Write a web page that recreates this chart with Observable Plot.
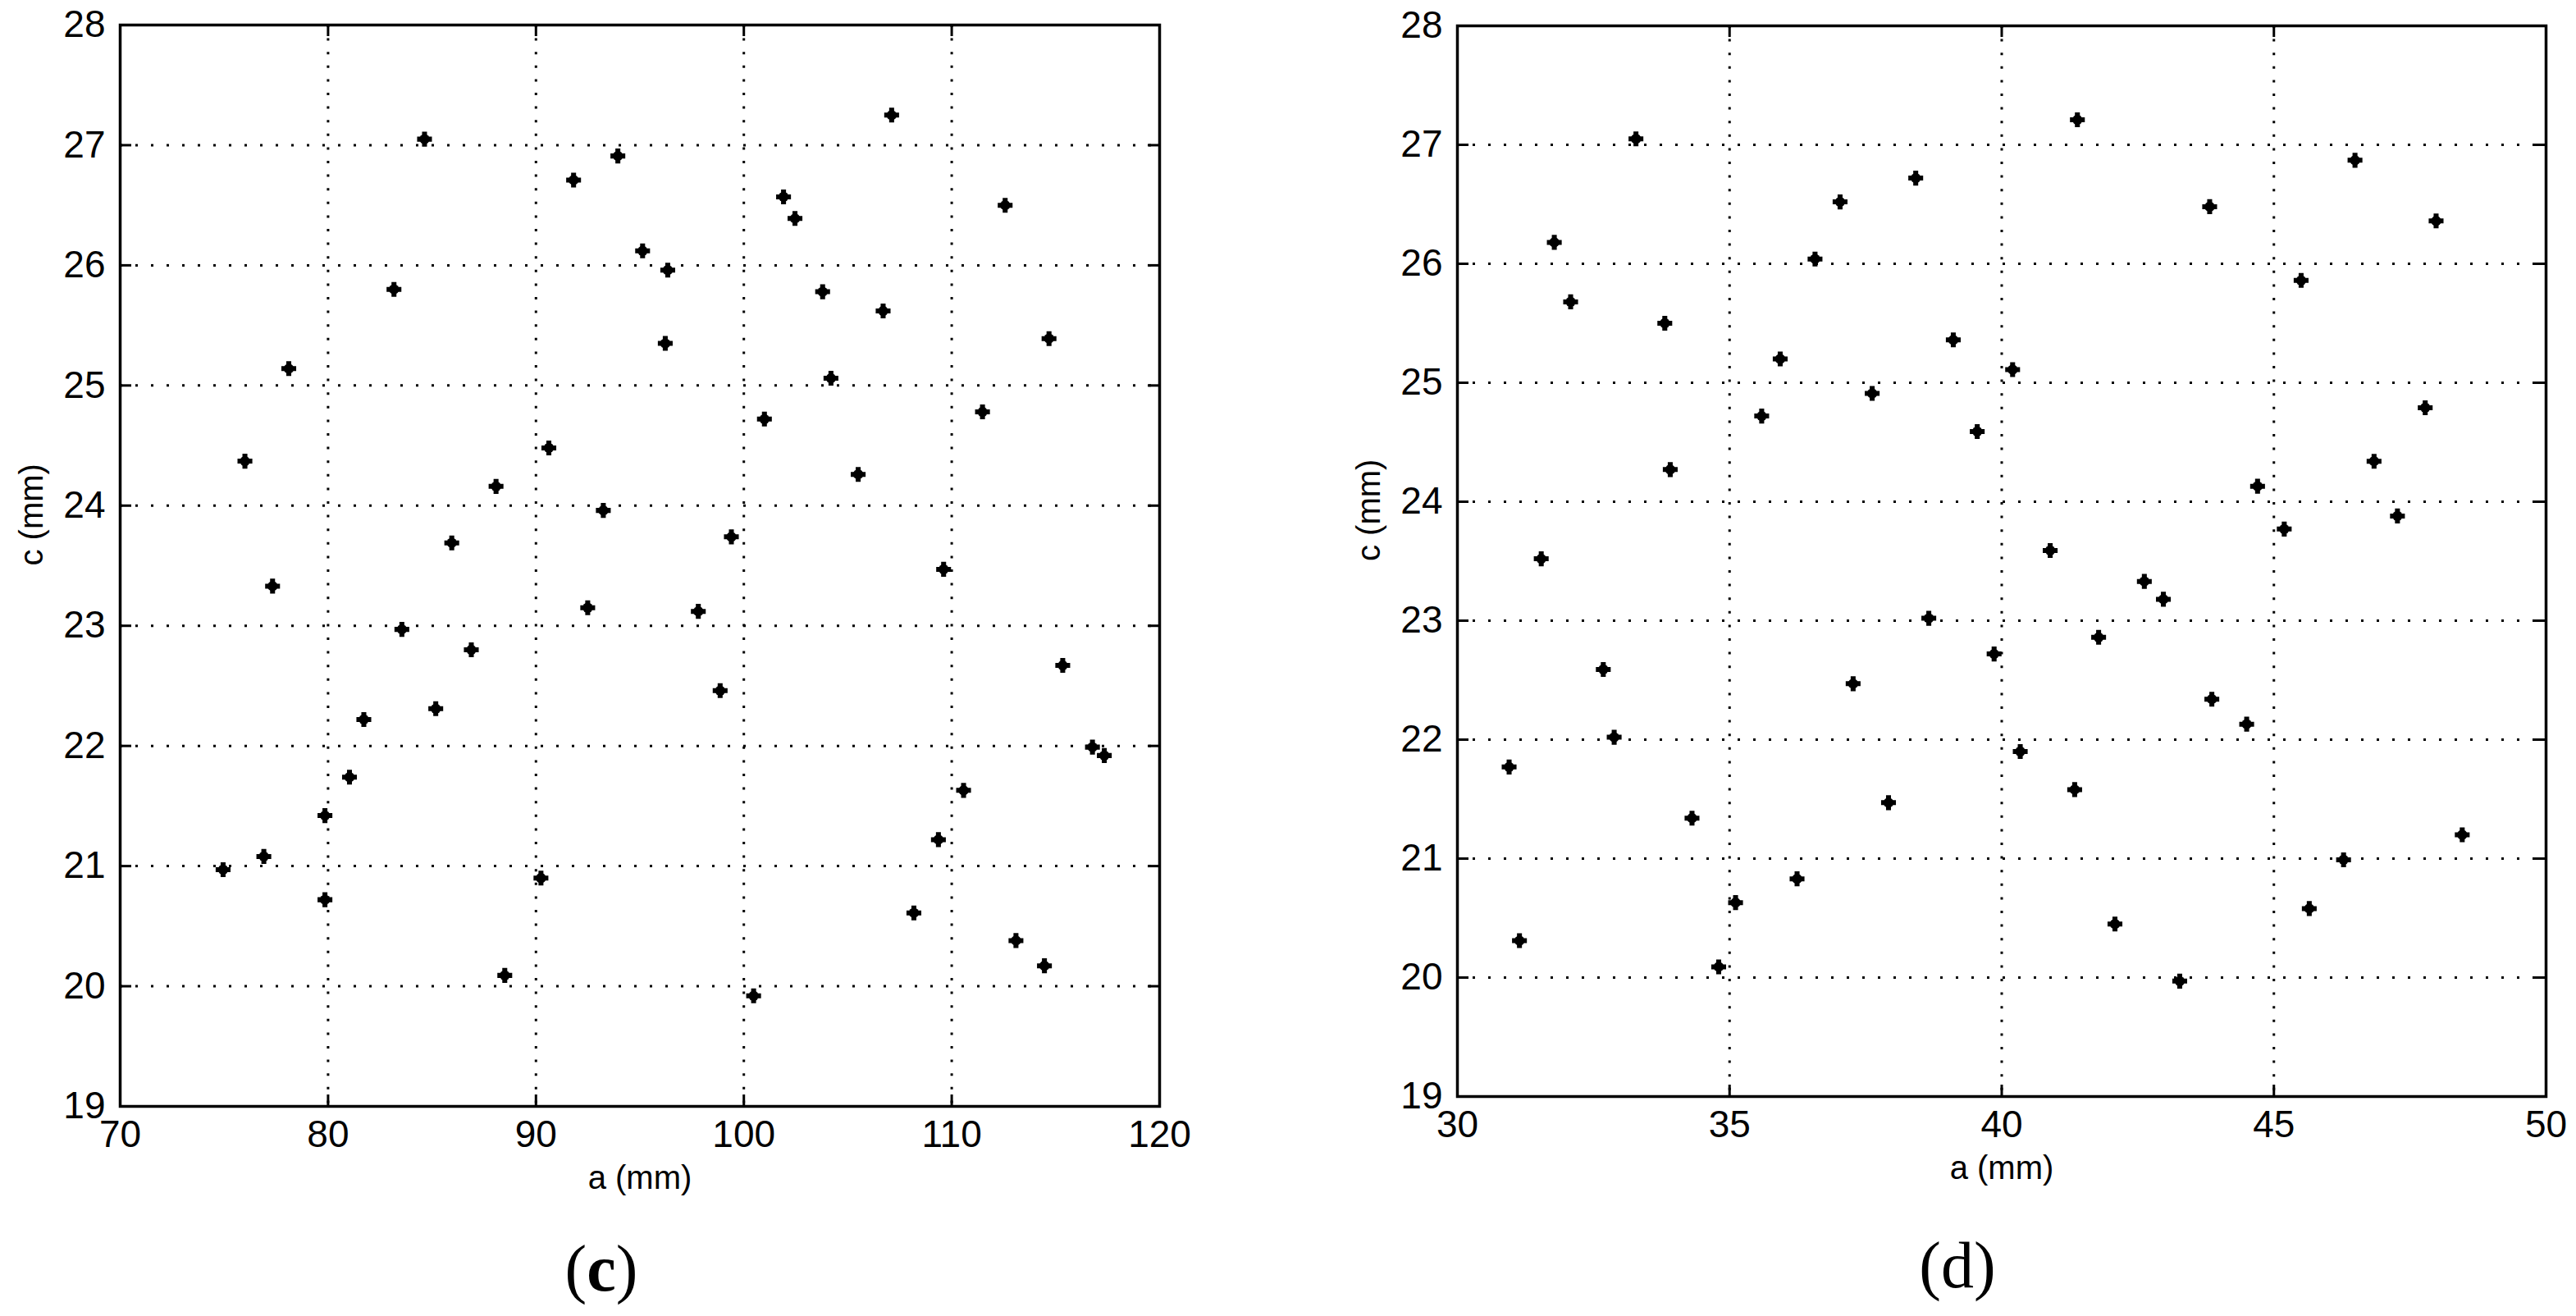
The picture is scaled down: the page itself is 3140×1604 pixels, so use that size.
<!DOCTYPE html>
<html>
<head>
<meta charset="utf-8">
<script src="https://cdn.jsdelivr.net/npm/d3@7"></script>
<script src="https://cdn.jsdelivr.net/npm/@observablehq/plot@0.6"></script>
<style>
html, body { margin: 0; padding: 0; background: #fff; }
#root { position: relative; width: 3140px; height: 1604px; overflow: hidden; background: #fff; }
.panel { position: absolute; top: 0; }
.cap { position: absolute; font-family: "Liberation Serif", "Times New Roman", serif; font-size: 80px; line-height: 1; transform: translate(-50%, -50%); white-space: nowrap; color: #000; }
</style>
</head>
<body>
<div id="root"></div>
<script>
// ---- Panel (c) data ----
const cA = [84.64, 93.94, 91.81, 95.13, 83.17, 78.11, 76.00, 90.62, 88.08, 93.24,
            85.95, 107.11, 101.91, 102.46, 112.57, 96.34, 103.79, 106.70, 96.22, 114.68,
            104.19, 111.48, 100.99, 105.50, 99.40, 109.61, 77.33, 92.49, 83.55, 86.89,
            85.18, 81.72, 81.03, 79.85, 76.91, 74.95, 79.85, 90.24, 88.50, 97.81,
            98.86, 115.34, 116.77, 117.34, 110.57, 109.36, 108.18, 113.09, 114.46, 100.47];
const cC = [27.05, 26.91, 26.71, 26.12, 25.80, 25.14, 24.37, 24.48, 24.16, 23.96,
            23.69, 27.25, 26.57, 26.39, 26.50, 25.96, 25.78, 25.62, 25.35, 25.39,
            25.06, 24.78, 24.72, 24.26, 23.74, 23.47, 23.33, 23.15, 22.97, 22.80,
            22.31, 22.22, 21.74, 21.42, 21.08, 20.97, 20.72, 20.90, 20.09, 23.12,
            22.46, 22.67, 21.99, 21.92, 21.63, 21.22, 20.61, 20.38, 20.17, 19.92];
const cXTicks = [70, 80, 90, 100, 110, 120];

// ---- Panel (d) data ----
const dA = [33.28, 38.42, 37.03, 31.78, 36.57, 32.08, 33.81, 39.11, 35.93, 37.62,
            35.59, 39.55, 33.91, 31.54, 41.39, 46.49, 43.82, 47.98, 45.50, 40.20,
            47.78, 46.84, 44.70, 47.27, 45.19, 40.89, 38.66, 39.86, 32.68, 37.27,
            32.88, 30.95, 37.92, 34.31, 36.24, 35.11, 31.14, 34.80, 42.62, 42.97,
            41.78, 43.86, 44.50, 40.34, 41.34, 48.46, 46.28, 45.65, 42.08, 43.27];
const dC = [27.05, 26.72, 26.52, 26.18, 26.04, 25.68, 25.50, 25.36, 25.20, 24.91,
            24.72, 24.59, 24.27, 23.52, 27.21, 26.87, 26.48, 26.36, 25.86, 25.11,
            24.79, 24.34, 24.13, 23.88, 23.77, 23.59, 23.02, 22.72, 22.59, 22.47,
            22.02, 21.77, 21.47, 21.34, 20.83, 20.63, 20.31, 20.09, 23.33, 23.18,
            22.86, 22.34, 22.13, 21.90, 21.58, 21.20, 20.99, 20.58, 20.45, 19.97];
const dXTicks = [30, 35, 40, 45, 50];

// ---- Shared ----
const yTicks = [19, 20, 21, 22, 23, 24, 25, 26, 27, 28];
const xLabel = "a (mm)";
const yLabel = "c (mm)";
const captions = ["c", "d"];

const tickFont = '"Liberation Sans Narrow", "Liberation Sans", Arial, sans-serif';
const labelFont = '"Liberation Sans", Arial, sans-serif';
const fmt = d => String(d);

function panel({a, c, xTicks, width, height, mL, mR, mT, mB}) {
  const data = a.map((v, i) => ({a: v, c: c[i]}));
  const fw = width - mL - mR, fh = height - mT - mB;
  const xInner = xTicks.slice(1, -1), yInner = yTicks.slice(1, -1);
  const tl = 14;
  const tickStyle = {stroke: "black", strokeOpacity: 1, strokeWidth: 3};
  return Plot.plot({
    width, height,
    marginLeft: mL, marginRight: mR, marginTop: mT, marginBottom: mB,
    style: {background: "white", color: "black", fontFamily: labelFont},
    x: {domain: [xTicks[0], xTicks[xTicks.length - 1]]},
    y: {domain: [yTicks[0], yTicks[yTicks.length - 1]]},
    marks: [
      Plot.gridX(xInner, {stroke: "black", strokeOpacity: 1, strokeWidth: 3, strokeDasharray: "3 13.6"}),
      Plot.gridY(yInner, {stroke: "black", strokeOpacity: 1, strokeWidth: 3, strokeDasharray: "3 16"}),
      Plot.gridX(xTicks, {...tickStyle, insetTop: fh - tl}),
      Plot.gridX(xTicks, {...tickStyle, insetBottom: fh - tl}),
      Plot.gridY(yTicks, {...tickStyle, insetRight: fw - tl}),
      Plot.gridY(yTicks, {...tickStyle, insetLeft: fw - tl}),
      Plot.frame({stroke: "black", strokeWidth: 3.5}),
      Plot.axisX(xTicks, {anchor: "bottom", tickSize: 0, tickPadding: 17, tickFormat: fmt, fontSize: 46, fontFamily: tickFont, label: null}),
      Plot.axisY(yTicks, {anchor: "left", tickSize: 0, tickPadding: 18, tickFormat: fmt, fontSize: 46, fontFamily: tickFont, label: null}),
      Plot.text([xLabel], {text: d => d, frameAnchor: "bottom", dy: 100, fontSize: 40, fontFamily: labelFont, fill: "black"}),
      Plot.text([yLabel], {text: d => d, frameAnchor: "left", dx: -107, rotate: -90, fontSize: 40, fontFamily: labelFont, fill: "black"}),
      Plot.dot(data, {x: "a", y: "c", r: 6.2, fill: "black", stroke: "none"}),
      Plot.dot(data, {x: "a", y: "c", symbol: "cross", r: 7.6, fill: "black", stroke: "none"})
    ]
  });
}

const root = document.getElementById("root");

const left = panel({a: cA, c: cC, xTicks: cXTicks, width: 1466, height: 1490, mL: 146, mR: 53, mT: 30, mB: 142});
left.classList.add("panel");
left.style.left = "0px";
root.appendChild(left);

const right = panel({a: dA, c: dC, xTicks: dXTicks, width: 1674, height: 1490, mL: 310, mR: 37, mT: 31, mB: 154});
right.classList.add("panel");
right.style.left = "1466px";
root.appendChild(right);

function caption(letter, x, y, bold) {
  const div = document.createElement("div");
  div.className = "cap";
  div.style.left = x + "px";
  div.style.top = y + "px";
  div.innerHTML = "(<span style=\"font-weight:" + (bold ? "bold" : "normal") + "\">" + letter + "</span>)";
  root.appendChild(div);
}
caption(captions[0], 733, 1546, true);
caption(captions[1], 2386, 1542, false);
</script>
</body>
</html>
